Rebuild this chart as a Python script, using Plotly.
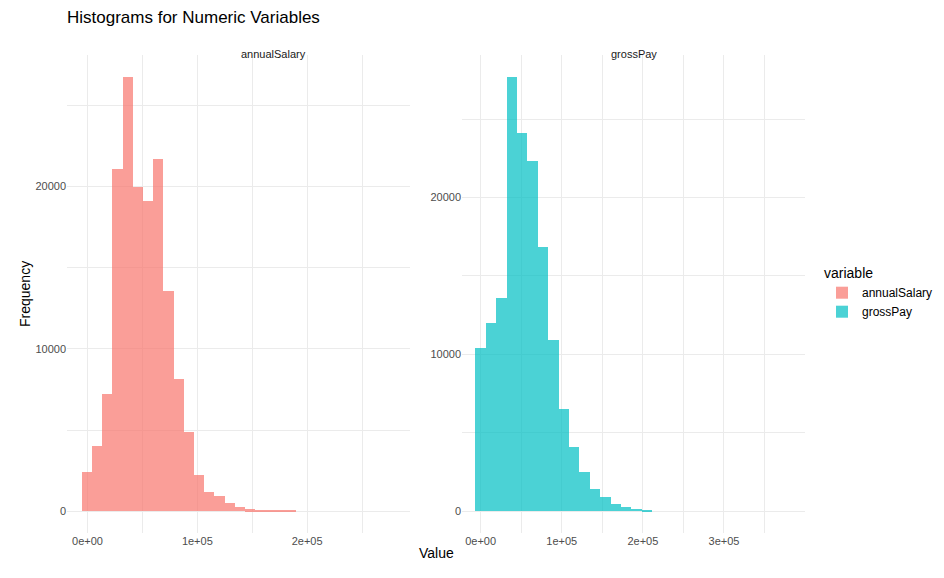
from plotly import graph_objects as go

# histogram bin counts
salary_start = -5190      # left edge of first bin
salary_width = 9290
salary_counts = [2400, 4000, 7210, 21070, 26740, 19960, 19100, 21680, 13550, 8130,
                 4870, 2220, 1170, 920, 490, 250, 120, 60, 50, 40, 30]

gross_start = -6570
gross_width = 12820
gross_counts = [10400, 12000, 13600, 27700, 24130, 22340, 16850, 10910, 6510, 4090,
                2490, 1400, 890, 450, 260, 130, 60]

panel_names = ["annualSalary", "grossPay"]
colors = ["#F8766D", "#00BFC4"]

y_ticks = [0, 5000, 10000, 15000, 20000, 25000]
y_text = ["0", "", "10000", "", "20000", ""]
x_ticks = [0, 50000, 100000, 150000, 200000, 250000, 300000, 350000]
x_text = ["0e+00", "", "1e+05", "", "2e+05", "", "3e+05", ""]

W, H = 944, 578
OFF = 8  # page body margin in the browser


def px(x):
    return (x - OFF) / W


def py(y):
    return 1 - (y - OFF) / H


def centers(start, width, n):
    return [start + width * (i + 0.5) for i in range(n)]


fig = go.Figure()

fig.add_trace(go.Bar(
    x=centers(salary_start, salary_width, len(salary_counts)), y=salary_counts,
    width=salary_width, name=panel_names[0], marker=dict(color=colors[0], line=dict(width=0)),
    opacity=0.7, xaxis="x", yaxis="y"
))
fig.add_trace(go.Bar(
    x=centers(gross_start, gross_width, len(gross_counts)), y=gross_counts,
    width=gross_width, name=panel_names[1], marker=dict(color=colors[1], line=dict(width=0)),
    opacity=0.7, xaxis="x2", yaxis="y2"
))

ydom = [py(533), py(55)]
axis_common = dict(showline=False, zeroline=False, gridcolor="#EBEBEB", gridwidth=1,
                   ticks="", tickfont=dict(color="#4D4D4D", size=11), tickmode="array")

fig.update_layout(
    width=W, height=H,
    margin=dict(l=0, r=0, t=0, b=0),
    plot_bgcolor="white", paper_bgcolor="white",
    font=dict(family="Liberation Sans, Arial", color="black"),
    barmode="overlay", bargap=0,
    xaxis=dict(domain=[px(67), px(410)], range=[-18700, 293700], anchor="y",
               tickvals=x_ticks, ticktext=x_text, **axis_common),
    yaxis=dict(domain=ydom, range=[-1337, 28077], anchor="x",
               tickvals=y_ticks, ticktext=y_text, **axis_common),
    xaxis2=dict(domain=[px(462), px(805)], range=[-23000, 399900], anchor="y2",
                tickvals=x_ticks, ticktext=x_text, **axis_common),
    yaxis2=dict(domain=ydom, range=[-1385, 29085], anchor="x2",
                tickvals=y_ticks, ticktext=y_text, **axis_common),
    legend=dict(x=px(822), y=py(260), xanchor="left", yanchor="top",
                title=dict(text="variable", font=dict(size=14)),
                font=dict(size=12), itemsizing="constant", tracegroupgap=2),
    title=dict(text="Histograms for Numeric Variables", x=px(67), xanchor="left",
               y=py(17), yanchor="middle", font=dict(size=17)),
)

fig.add_annotation(text=panel_names[0], x=px((67 + 410) / 2), y=py(46), xref="paper", yref="paper",
                   showarrow=False, font=dict(size=11, color="#1A1A1A"))
fig.add_annotation(text=panel_names[1], x=px((462 + 805) / 2), y=py(46), xref="paper", yref="paper",
                   showarrow=False, font=dict(size=11, color="#1A1A1A"))
fig.add_annotation(text="Value", x=px(436), y=py(563), xref="paper", yref="paper",
                   showarrow=False, font=dict(size=14))
fig.add_annotation(text="Frequency", x=px(15), y=py(294), xref="paper", yref="paper",
                   showarrow=False, textangle=-90, font=dict(size=14))

fig.write_html("out.html")
